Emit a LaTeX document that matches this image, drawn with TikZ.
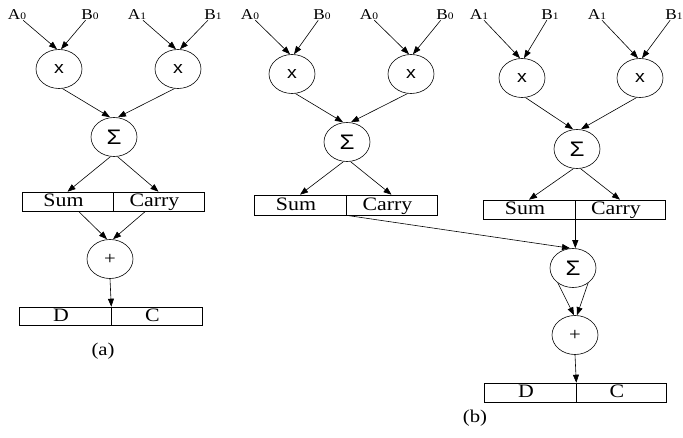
\documentclass[tikz,border=0pt]{standalone}
\usepackage{fontspec}
\setmainfont{Liberation Serif}
\newfontfamily\sansf{Liberation Sans}
\usetikzlibrary{shapes.geometric,arrows.meta}
\newcommand{\wide}[1]{\scalebox{1.15}[1]{#1}}
\newcommand{\cw}[1]{\hspace*{-8pt}\scalebox{1.15}[1]{#1}}
\newcommand{\sub}[1]{{\fontsize{10}{10}\selectfont #1}}
\begin{document}
\begin{tikzpicture}[x=1pt,y=-1pt,
  line width=0.6pt,
  lbl/.style={inner sep=0pt,font=\fontsize{15}{15}\selectfont},
  op/.style={ellipse,draw,minimum width=46pt,minimum height=39pt,inner sep=0pt},
  mul/.style={op,font=\sansf\fontsize{17}{17}\selectfont},
  sig/.style={op,font=\sansf\fontsize{21}{21}\selectfont},
  pls/.style={op,font=\fontsize{18}{18}\selectfont},
  cell/.style={rectangle,draw,minimum height=19pt,inner sep=0pt,text height=14pt,text depth=3pt,font=\fontsize{19}{19}\selectfont},
  arr/.style={-{Triangle[length=8pt,width=6pt]}},
  captxt/.style={inner sep=0pt,font=\fontsize{18}{18}\selectfont}
]
\useasboundingbox (0,0) rectangle (683,438);

% ---------------- (a) ----------------
\node[lbl] (aA0) at (17,15) {\wide{A\sub{0}}};
\node[lbl] (aB0) at (90,15) {\wide{B\sub{0}}};
\node[lbl] (aA1) at (137,15) {\wide{A\sub{1}}};
\node[lbl] (aB1) at (213,15) {\wide{B\sub{1}}};
\node[mul] (am1) at (59,69) {\wide{x}};
\node[mul] (am2) at (178,69) {\wide{x}};
\node[sig] (as) at (114,137) {\wide{Σ}};
\node[cell,minimum width=91pt] (aSum) at (67.5,201.5) {\cw{Sum}};
\node[cell,minimum width=91pt] (aCarry) at (158.5,201.5) {\cw{Carry}};
\node[pls] (ap) at (110,259) {\wide{+}};
\node[cell,minimum width=92pt,minimum height=18pt] (aD) at (65,316) {\cw{D}};
\node[cell,minimum width=91pt,minimum height=18pt] (aC) at (156.5,316) {\cw{C}};
\node[captxt] (alab) at (103,351) {\wide{(a)}};

\draw[arr] (aA0) -- ([xshift=-2pt]am1.north);
\draw[arr] (aB0) -- ([xshift=2pt]am1.north);
\draw[arr] (aA1) -- ([xshift=-2pt]am2.north);
\draw[arr] (aB1) -- ([xshift=2pt]am2.north);
\draw[arr] (am1.-80) -- ([xshift=-4pt]as.north);
\draw[arr] (am2.-100) -- ([xshift=4pt]as.north);
\draw[arr] (as.-100) -- (aSum.north);
\draw[arr] (as.-80) -- (aCarry.north);
\draw[arr] ([xshift=11pt]aSum.south) -- ([xshift=-3pt]ap.north);
\draw[arr] ([xshift=-13pt]aCarry.south) -- ([xshift=3pt]ap.north);
\draw[arr] (ap.south) -- (aD.north east);

% ---------------- (b) left ----------------
\node[lbl] (bA0) at (250,15) {\wide{A\sub{0}}};
\node[lbl] (bB0) at (322,15) {\wide{B\sub{0}}};
\node[lbl] (bA0b) at (369,15) {\wide{A\sub{0}}};
\node[lbl] (bB0b) at (445,15) {\wide{B\sub{0}}};
\node[mul] (bm1) at (292,74) {\wide{x}};
\node[mul] (bm2) at (411,74) {\wide{x}};
\node[sig] (bs) at (347,142) {\wide{Σ}};
\node[cell,minimum width=92pt,minimum height=20pt] (bSum) at (300,205) {\cw{Sum}};
\node[cell,minimum width=91pt,minimum height=20pt] (bCarry) at (391.5,205) {\cw{Carry}};

\draw[arr] (bA0) -- ([xshift=-2pt]bm1.north);
\draw[arr] (bB0) -- ([xshift=2pt]bm1.north);
\draw[arr] (bA0b) -- ([xshift=-2pt]bm2.north);
\draw[arr] (bB0b) -- ([xshift=2pt]bm2.north);
\draw[arr] (bm1.-80) -- ([xshift=-4pt]bs.north);
\draw[arr] (bm2.-100) -- ([xshift=4pt]bs.north);
\draw[arr] (bs.-100) -- (bSum.north);
\draw[arr] (bs.-80) -- (bCarry.north);

% ---------------- (b) right ----------------
\node[lbl] (cA1) at (479,15) {\wide{A\sub{1}}};
\node[lbl] (cB1) at (550,15) {\wide{B\sub{1}}};
\node[lbl] (cA1b) at (597,15) {\wide{A\sub{1}}};
\node[lbl] (cB1b) at (674,15) {\wide{B\sub{1}}};
\node[mul] (cm1) at (522,78) {\wide{x}};
\node[mul] (cm2) at (640,78) {\wide{x}};
\node[sig] (cs) at (577,149) {\wide{Σ}};
\node[cell,minimum width=92pt] (cSum) at (529,209.5) {\cw{Sum}};
\node[cell,minimum width=90pt] (cCarry) at (620,209.5) {\cw{Carry}};

\draw[arr] (cA1) -- ([xshift=-2pt]cm1.north);
\draw[arr] (cB1) -- ([xshift=2pt]cm1.north);
\draw[arr] (cA1b) -- ([xshift=-2pt]cm2.north);
\draw[arr] (cB1b) -- ([xshift=2pt]cm2.north);
\draw[arr] (cm1.-80) -- ([xshift=-4pt]cs.north);
\draw[arr] (cm2.-100) -- ([xshift=4pt]cs.north);
\draw[arr] (cs.-100) -- (cSum.north);
\draw[arr] (cs.-80) -- (cCarry.north);

% ---------------- (b) bottom ----------------
\node[sig] (s2) at (573,268) {\wide{Σ}};
\node[pls] (p2) at (575,335) {\wide{+}};
\node[cell,minimum width=92pt] (dD) at (530,392.5) {\cw{D}};
\node[cell,minimum width=90pt] (dC) at (621,392.5) {\cw{C}};
\node[captxt] (blab) at (475,418) {\wide{(b)}};

\draw[arr] (bSum.south east) -- ([xshift=-3pt]s2.north);
\draw[arr] (cSum.south east) -- (cSum.south east |- s2.north);
\draw[arr] (s2.-135) -- ([xshift=-1pt]p2.north);
\draw[arr] (s2.-45) -- ([xshift=2pt]p2.north);
\draw[arr] (p2.south) -- (dD.north east);
\end{tikzpicture}
\end{document}
